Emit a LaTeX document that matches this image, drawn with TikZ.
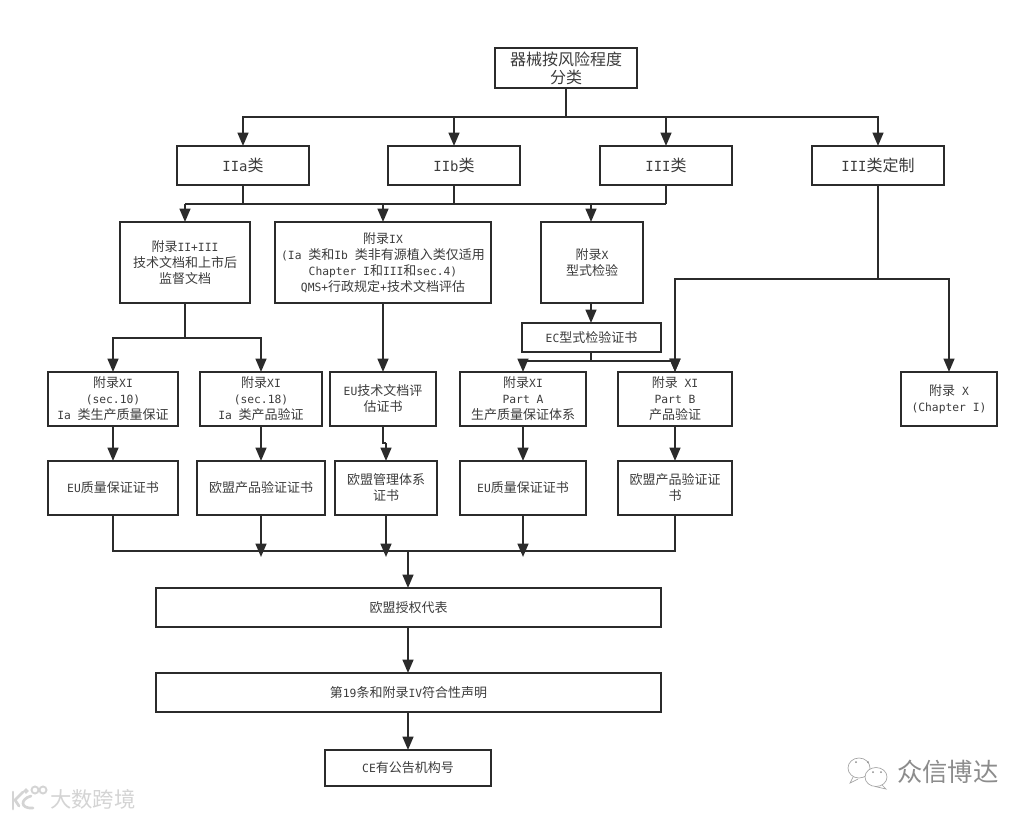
\documentclass[tikz,border=0pt]{standalone}
\usepackage{fontspec}
\setmainfont[Scale=0.87]{DejaVu Sans Mono}
\newfontfamily\zhf{Noto Sans CJK SC}
\newcommand\zh[1]{{\zhf #1}}
\usetikzlibrary{arrows.meta}
\definecolor{ink}{HTML}{2B2B2B}
\definecolor{txt}{HTML}{3C3C3C}
\definecolor{markA}{HTML}{8C8C8C}
\definecolor{markB}{HTML}{D4D4D4}
\tikzset{
  x=0.75pt,y=-0.75pt,
  box/.style={draw=ink,line width=1.6pt,fill=white,inner sep=0pt,outer sep=0pt,align=center,text=txt,
    font=\fontsize{9.75}{12}\selectfont},
  bigbox/.style={box,font=\fontsize{12}{13.5}\selectfont},
  conn/.style={draw=ink,line width=1.6pt,line cap=butt,line join=miter},
  arr/.style={conn,-{Triangle[length=10pt,width=8pt]}},
  mark1/.style={text=markA,font=\fontsize{19}{22}\selectfont\zhf,inner sep=0pt},
  mark2/.style={text=markB,font=\fontsize{16}{20}\selectfont\zhf,inner sep=0pt},
}
% name, left, top, right, bottom, style, text
\newcommand\bx[7]{\node[#6,minimum width={(#4-#2)*0.75pt},minimum height={(#5-#3)*0.75pt}] (#1) at ({(#2+#4)/2},{(#3+#5)/2}) {#7};}
\begin{document}
\begin{tikzpicture}
\useasboundingbox[fill=white] (0,0) rectangle (1029,818);
% boxes
\bx{top}{495}{48}{637}{88}{bigbox}{\zh{器械按风险程度}\\\zh{分类}}
\bx{a}{177}{146}{309}{185}{bigbox}{IIa\zh{类}}
\bx{b}{388}{146}{520}{185}{bigbox}{IIb\zh{类}}
\bx{c}{600}{146}{732}{185}{bigbox}{III\zh{类}}
\bx{d}{812}{146}{944}{185}{bigbox}{III\zh{类定制}}
\bx{e}{120}{222}{250}{303}{box}{\zh{附录}II+III\\\zh{技术文档和上市后}\\\zh{监督文档}}
\bx{f}{275}{222}{491}{303}{box}{\zh{附录}IX\\(Ia \zh{类和}Ib \zh{类非有源植入类仅适用}\\Chapter I\zh{和}III\zh{和}sec.4)\\QMS+\zh{行政规定}+\zh{技术文档评估}}
\bx{g}{541}{222}{643}{303}{box}{\zh{附录}X\\\zh{型式检验}}
\bx{ec}{522}{323}{661}{352}{box}{EC\zh{型式检验证书}}
\bx{h}{48}{372}{178}{426}{box}{\zh{附录}XI\\(sec.10)\\Ia \zh{类生产质量保证}}
\bx{i}{200}{372}{322}{426}{box}{\zh{附录}XI\\(sec.18)\\Ia \zh{类产品验证}}
\bx{j}{330}{372}{436}{426}{box}{EU\zh{技术文档评}\\\zh{估证书}}
\bx{k}{460}{372}{586}{426}{box}{\zh{附录}XI\\Part A\\\zh{生产质量保证体系}}
\bx{l}{618}{372}{732}{426}{box}{\zh{附录} XI\\Part B\\\zh{产品验证}}
\bx{m}{901}{372}{997}{426}{box}{\zh{附录} X\\(Chapter I)}
\bx{n}{48}{461}{178}{515}{box}{EU\zh{质量保证证书}}
\bx{o}{197}{461}{325}{515}{box}{\zh{欧盟产品验证证书}}
\bx{p}{335}{461}{437}{515}{box}{\zh{欧盟管理体系}\\\zh{证书}}
\bx{q}{460}{461}{586}{515}{box}{EU\zh{质量保证证书}}
\bx{r}{618}{461}{732}{515}{box}{\zh{欧盟产品验证证}\\\zh{书}}
\bx{s}{156}{588}{661}{627}{box}{\zh{欧盟授权代表}}
\bx{t}{156}{673}{661}{712}{box}{\zh{第}19\zh{条和附录}IV\zh{符合性声明}}
\bx{u}{325}{750}{491}{786}{box}{CE\zh{有公告机构号}}
% junction points
\coordinate (j1) at (566,117);
\coordinate (j2) at (383,204);
\coordinate (j3) at (185,204);
\coordinate (j3r) at (591,204);
\coordinate (j4) at (185,338);
\coordinate (j5) at (591,361);
\coordinate (j6) at (878,279);
\coordinate (j7) at (408,551);
\coordinate (j7a) at (113,551);
\coordinate (j7b) at (675,551);
\coordinate (t1) at (261,557);
\coordinate (t2) at (386,557);
\coordinate (t3) at (523,557);
\coordinate (jp1) at (383,443);
\coordinate (jp2) at (386,443);
% level 1
\draw[conn] (top.south) -- (j1);
\draw[arr] (j1) -| (a.north);
\draw[arr] (j1) -| (b.north);
\draw[arr] (j1) -| (c.north);
\draw[arr] (j1) -| (d.north);
% level 2
\draw[conn] (a.south) -- (a.south |- j3);
\draw[conn] (b.south) -- (b.south |- j3);
\draw[conn] (c.south) -- (c.south |- j3);
\draw[conn] (j3) -- (c.south |- j3);
\draw[arr] (j3) -- (j3 |- e.north);
\draw[arr] (j2) -- (f.north);
\draw[arr] (j3r) -- (j3r |- g.north);
% level 3
\draw[conn] (e.south) -- (j4);
\draw[arr] (j4) -| (h.north);
\draw[arr] (j4) -| (i.north);
\draw[arr] (f.south) -- (j.north -| f.south);
\draw[arr] (j5 |- g.south) -- (j5 |- ec.north);
\draw[conn] (j5 |- ec.south) -- (j5);
\draw[arr] (j5) -| (k.north);
\draw[arr] (j5) -| (l.north);
% III custom
\draw[conn] (d.south) -- (j6);
\draw[arr] (j6) -| (l.north);
\draw[arr] (j6) -| (m.north);
% certificates
\draw[arr] (h.south) -- (n.north);
\draw[arr] (i.south) -- (o.north -| i.south);
\draw[conn] (jp1 |- j.south) -- (jp1) -- (jp2);
\draw[arr] (jp2) -- (p.north);
\draw[arr] (k.south) -- (q.north -| k.south);
\draw[arr] (l.south) -- (r.north);
% collecting bus
\draw[conn] (n.south) -- (j7a) -- (j7b) -- (r.south);
\draw[arr] (t1 |- o.south) -- (t1);
\draw[arr] (p.south) -- (t2);
\draw[arr] (t3 |- q.south) -- (t3);
\draw[arr] (j7) -- (j7 |- s.north);
\draw[arr] (j7 |- s.south) -- (j7 |- t.north);
\draw[arr] (j7 |- t.south) -- (j7 |- u.north);
% watermark right
\node[mark1,anchor=west] (wm1) at (897,772) {众信博达};
\draw[markA!80,line width=0.5pt,fill=white] (859,768) ellipse [x radius=11,y radius=10];
\draw[markA!80,line width=0.5pt] (853,777) -- (850,783) -- (858,779);
\draw[markA!80,line width=0.5pt,fill=white] (876,777) ellipse [x radius=11,y radius=9.5];
\draw[markA!80,line width=0.5pt] (882,785) -- (886,789) -- (875,786.5);
\fill[markA] (856,762) circle (1) (868,762) circle (1) (873,772) circle (1) (881,772) circle (1);
% watermark left
\node[mark2,anchor=west] (wm2) at (50,799) {大数跨境};
\draw[markB,line width=2pt,line cap=round] (13,792) -- (13,809);
\draw[markB,line width=2pt,line cap=round] (23,792) -- (15,800) -- (19,806);
\draw[markB,line width=2pt,line cap=round] (31,796) .. controls (20,799) and (20,809) .. (33,808);
\draw[markB,line width=1.4pt] (26,791) circle (1.5) (35,790) circle (3.5) (43,790) circle (3.5);
\end{tikzpicture}
\end{document}
